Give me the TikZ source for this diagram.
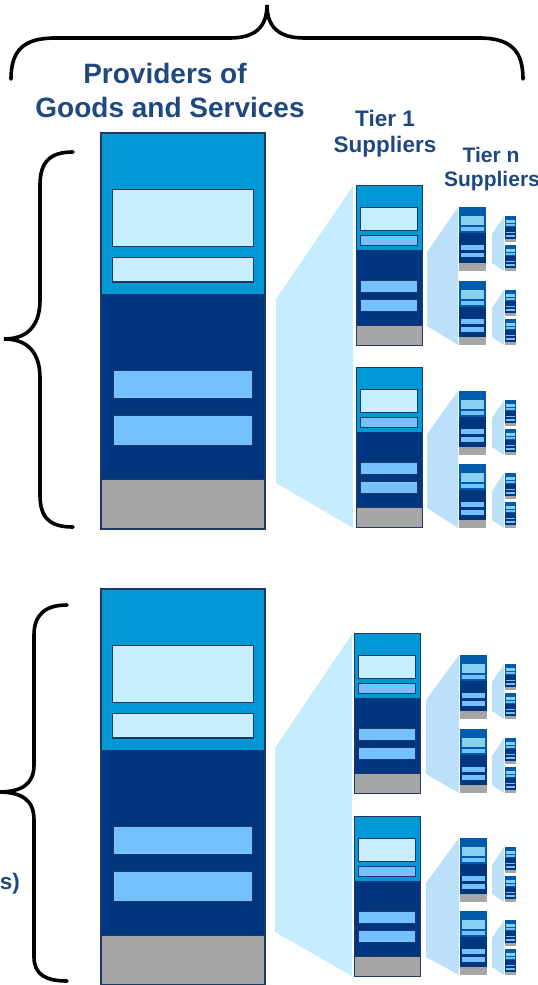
\documentclass[tikz,border=0pt]{standalone}
\usepackage{fontspec}
\setmainfont{Liberation Sans}
\definecolor{txtblue}{HTML}{1F497D}
\definecolor{topblue}{HTML}{0099D5}
\definecolor{navyblk}{HTML}{003580}
\definecolor{grayblk}{HTML}{A6A6A6}
\definecolor{boxlight}{HTML}{C6EEFF}
\definecolor{boxmid}{HTML}{75C0FF}
\definecolor{edgeblk}{HTML}{1F3864}
\definecolor{topdeep}{HTML}{005BAA}
\definecolor{boxsky}{HTML}{88D0F0}
\definecolor{fanA}{HTML}{C6ECFF}
\definecolor{fanB}{HTML}{BDE0FA}
\newcommand\blockfig[8]{% x y w h topcolor box1 box2 edgeopts
\begin{scope}[shift={(#1,#2)},xscale=#3,yscale=#4]
\fill[#5] (0,0) rectangle (1,0.406);
\fill[navyblk] (0,0.406) rectangle (1,0.875);
\fill[grayblk] (0,0.875) rectangle (1,1);
\draw[#8] (0,0.875) -- (1,0.875);
\draw[#8] (0,0) rectangle (1,1);
\filldraw[fill=#6,#8] (0.07,0.142) rectangle (0.93,0.286);
\filldraw[fill=#7,#8] (0.07,0.315) rectangle (0.93,0.376);
\filldraw[fill=boxmid,#8] (0.075,0.599) rectangle (0.925,0.671);
\filldraw[fill=boxmid,#8] (0.075,0.714) rectangle (0.925,0.789);
\end{scope}}
\newcommand\tiernfig[2]{% x y of a tier n block
\fill[fanB] (492,{#2+27}) -- (504,{#2+9}) -- (504,{#2+64}) -- (492,{#2+56}) -- cycle;
\blockfig{#1}{#2}{27}{64}{topdeep}{boxsky}{boxmid}{draw=none}
\blockfig{505}{#2+9}{11}{26}{topdeep}{boxsky}{boxmid}{draw=none}
\blockfig{505}{#2+38}{11}{26}{topdeep}{boxsky}{boxmid}{draw=none}}
\tikzset{
  bracestyle/.style={draw=black,line width=3.6pt,line cap=round},
  heading/.style={text=txtblue,font=\bfseries\fontsize{28}{33}\selectfont,anchor=base,inner sep=0pt},
  tierlabel/.style={text=txtblue,font=\bfseries\fontsize{22.5}{27}\selectfont,anchor=base,inner sep=0pt},
  tiernlabel/.style={text=txtblue,font=\bfseries\fontsize{21}{24}\selectfont,anchor=base,inner sep=0pt}
}
\begin{document}
\begin{tikzpicture}[x=1pt,y=-1pt]
\useasboundingbox (0,0) rectangle (538,985);
% braces
\draw[bracestyle] (11,79) .. controls (11,51) and (23,38) .. (55,38) -- (230,38) .. controls (255,38) and (267,27) .. (267,5) .. controls (267,27) and (279,38) .. (304,38) -- (479,38) .. controls (511,38) and (523,51) .. (523,79);
\draw[bracestyle] (73,152) .. controls (50,152) and (40,162) .. (40,185) -- (40,300) .. controls (40,325) and (28,339) .. (4,339) .. controls (28,339) and (40,353) .. (40,378) -- (40,495) .. controls (40,518) and (50,527) .. (73,527);
\draw[bracestyle] (67,605) .. controls (45,605) and (34,615) .. (34,635) -- (34,765) .. controls (34,784) and (22,792) .. (-2,792) .. controls (22,792) and (34,800) .. (34,820) -- (34,957) .. controls (34,974) and (45,981) .. (67,981);
% labels
\node[heading] (prov1) at (165,83) {Providers of};
\node[heading] (prov2) at (170,117) {Goods and Services};
\node[tierlabel] (t1a) at (385,126) {Tier 1};
\node[tierlabel] (t1b) at (385,152) {Suppliers};
\node[tiernlabel] (tna) at (491,162) {Tier n};
\node[tiernlabel] (tnb) at (492,186) {Suppliers};
\node[tierlabel,anchor=base east] (rs) at (20,889) {s)};
% big fans
\fill[fanA] (276,299) -- (353,186) -- (353,528) -- (276,483) -- cycle;
\fill[fanA] (275,748) -- (352,634) -- (352,976) -- (275,932) -- cycle;
% tier n fans
\fill[fanB] (427,252) -- (458,207) -- (458,345) -- (427,326) -- cycle;
\fill[fanB] (427,434) -- (458,391) -- (458,528) -- (427,508) -- cycle;
\fill[fanB] (426,700) -- (459,655) -- (459,793) -- (426,774) -- cycle;
\fill[fanB] (426,883) -- (459,838) -- (459,975) -- (426,957) -- cycle;
% big blocks
\blockfig{101}{133}{164}{396}{topblue}{boxlight}{boxlight}{draw=edgeblk,line width=1.4pt}
\blockfig{101}{589}{164}{396}{topblue}{boxlight}{boxlight}{draw=edgeblk,line width=1.4pt}
% tier 1 blocks
\blockfig{356}{185}{66}{160}{topblue}{boxlight}{boxmid}{draw=edgeblk,line width=1pt}
\blockfig{356}{367}{66}{160}{topblue}{boxlight}{boxmid}{draw=edgeblk,line width=1pt}
\blockfig{354}{633}{66}{160}{topblue}{boxlight}{boxmid}{draw=edgeblk,line width=1pt}
\blockfig{354}{816}{66}{160}{topblue}{boxlight}{boxmid}{draw=edgeblk,line width=1pt}
% tier n blocks with their sub-suppliers
\tiernfig{459}{207}
\tiernfig{459}{281}
\tiernfig{459}{391}
\tiernfig{459}{464}
\tiernfig{460}{655}
\tiernfig{460}{729}
\tiernfig{460}{838}
\tiernfig{460}{911}
\end{tikzpicture}
\end{document}
